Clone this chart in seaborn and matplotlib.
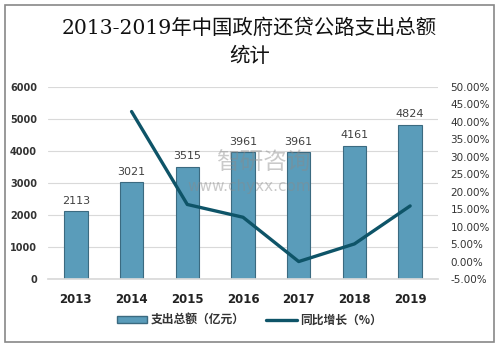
import matplotlib
matplotlib.use("Agg")
import matplotlib.pyplot as plt
import seaborn as sns
import pandas as pd
from matplotlib.ticker import FuncFormatter, MultipleLocator
from matplotlib.patches import Rectangle, Patch
from matplotlib.lines import Line2D

years = ["2013", "2014", "2015", "2016", "2017", "2018", "2019"]
spending = [2113, 3021, 3515, 3961, 3961, 4161, 4824]
growth_years = ["2014", "2015", "2016", "2017", "2018", "2019"]
growth = [42.97, 16.35, 12.69, 0.0, 5.05, 15.93]

sns.set_theme(style="white")
plt.rcParams['font.family'] = ['DejaVu Sans', 'Noto Sans CJK SC']

df = pd.DataFrame({"year": years, "spending": spending})

fig = plt.figure(figsize=(4.99, 3.49), dpi=100)
ax = fig.add_axes([48/499, 1-279/349, 390/499, 192/349])

sns.barplot(data=df, x="year", y="spending", ax=ax, color="#5a9cba",
            width=0.42, edgecolor="#3b6a80", linewidth=0.8, saturation=1)
ax.set_ylim(0, 6000)
ax.yaxis.set_major_locator(MultipleLocator(1000))
ax.grid(axis="y", color="#d9d9d9", linewidth=0.8)
ax.set_axisbelow(True)
for s in ax.spines.values():
    s.set_visible(False)
ax.spines["bottom"].set_visible(True)
ax.spines["bottom"].set_color("#d9d9d9")
ax.set_xlabel("")
ax.set_ylabel("")
ax.tick_params(axis="both", length=0)
ax.tick_params(axis="y", pad=8)
for lbl in ax.get_yticklabels():
    lbl.set_fontsize(7); lbl.set_fontweight("bold"); lbl.set_color("#333333")
for lbl in ax.get_xticklabels():
    lbl.set_fontsize(8.5); lbl.set_fontweight("bold"); lbl.set_color("#222222")
ax.tick_params(axis="x", pad=10)

for i, v in enumerate(spending):
    ax.text(i, v + 170, str(v), ha="center", va="bottom", fontsize=8, color="#404040")

ax2 = ax.twinx()
xpos = [years.index(y) for y in growth_years]
gdf = pd.DataFrame({"x": xpos, "g": growth})
sns.lineplot(data=gdf, x="x", y="g", ax=ax2, color="#0e5468", linewidth=2.4)
ax2.set_ylim(-5, 50)
ax2.yaxis.set_major_locator(MultipleLocator(5))
ax2.yaxis.set_major_formatter(FuncFormatter(lambda v, p: f"{v:.2f}%"))
for s in ax2.spines.values():
    s.set_visible(False)
ax2.grid(False)
ax2.set_ylabel("")
ax2.set_xlabel("")
ax2.tick_params(axis="y", length=0, pad=9)
for lbl in ax2.get_yticklabels():
    lbl.set_fontsize(7.5); lbl.set_color("#333333")
ax.set_xlim(-0.5, 6.5)

# watermark (drawn above bars)
ax2.text(263/499, 1-163/349, "智研咨询", ha="center", va="center", fontsize=17,
         color="#8a8a8a", alpha=0.45, family=["Noto Sans CJK SC"],
         transform=fig.transFigure, zorder=10)
ax2.text(249/499, 1-187/349, "www.chyxx.com", ha="center", va="center", fontsize=11,
         color="#8a8a8a", alpha=0.45, transform=fig.transFigure, zorder=10)

fig.text(0.5, 1-28/349, "2013-2019年中国政府还贷公路支出总额", ha="center", va="center",
         fontsize=14.7, color="#111111", family=["DejaVu Serif", "Noto Sans CJK SC"])
fig.text(0.5, 1-57/349, "统计", ha="center", va="center",
         fontsize=14.7, color="#111111", family=["Noto Sans CJK SC"])

handles = [Patch(facecolor="#5a9cba", edgecolor="#3b6a80", label="支出总额（亿元）"),
           Line2D([0], [0], color="#0e5468", linewidth=2.4, label="同比增长（%）")]
fig.legend(handles=handles, loc="center", bbox_to_anchor=(0.5, 1-320/349), ncol=2,
           frameon=False, prop={"family": ["Noto Sans CJK SC"], "size": 8.5, "weight": "bold"},
           handlelength=2.6, handleheight=0.6, columnspacing=1.8, handletextpad=0.3,
           labelcolor="#333333")

fig.patches.append(Rectangle((5/499, 1-342/349), 489/499, 337/349, transform=fig.transFigure,
                             fill=False, edgecolor="#888888", linewidth=1.2))

fig.savefig("out.png", dpi=100)
